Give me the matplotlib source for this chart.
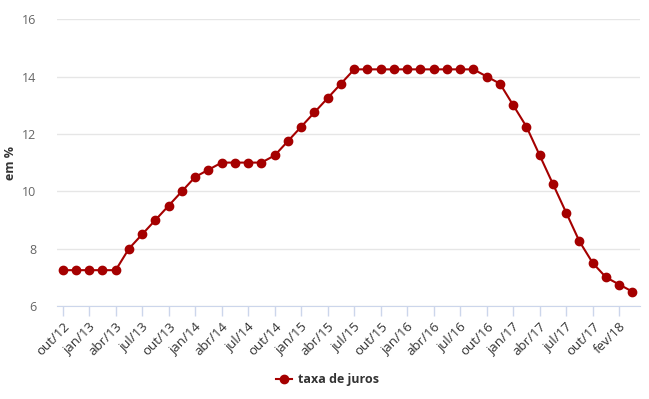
import matplotlib.pyplot as plt

plt.rcParams['font.family'] = ['Open Sans', 'DejaVu Sans']

# one entry per Copom meeting, labelled by month
meses = ['out/12', 'nov/12', 'jan/13', 'mar/13', 'abr/13', 'mai/13', 'jul/13', 'ago/13',
         'out/13', 'nov/13', 'jan/14', 'fev/14', 'abr/14', 'mai/14', 'jul/14', 'set/14',
         'out/14', 'dez/14', 'jan/15', 'mar/15', 'abr/15', 'jun/15', 'jul/15', 'set/15',
         'out/15', 'nov/15', 'jan/16', 'mar/16', 'abr/16', 'jun/16', 'jul/16', 'ago/16',
         'out/16', 'nov/16', 'jan/17', 'fev/17', 'abr/17', 'mai/17', 'jul/17', 'set/17',
         'out/17', 'dez/17', 'fev/18', 'mar/18']
taxa = [7.25, 7.25, 7.25, 7.25, 7.25, 8.0, 8.5, 9.0,
        9.5, 10.0, 10.5, 10.75, 11.0, 11.0, 11.0, 11.0,
        11.25, 11.75, 12.25, 12.75, 13.25, 13.75, 14.25, 14.25,
        14.25, 14.25, 14.25, 14.25, 14.25, 14.25, 14.25, 14.25,
        14.0, 13.75, 13.0, 12.25, 11.25, 10.25, 9.25, 8.25,
        7.5, 7.0, 6.75, 6.5]
yticks = [6, 8, 10, 12, 14, 16]

fig = plt.figure(figsize=(6.49, 3.99), dpi=100)
ax = fig.add_axes([0.0878, 0.233, 0.898, 0.719])

x = list(range(len(meses)))
ax.plot(x, taxa, color='#a50000', linewidth=1.5, marker='o', markersize=6,
        label='taxa de juros')

ax.set_ylim(6, 16)
ax.set_xlim(-0.43, len(meses) - 0.45)
ax.set_yticks(yticks)
ax.set_xticks(x[::2])
ax.set_xticklabels(meses[::2], rotation=45, ha='right', rotation_mode='anchor',
                   fontsize=9.5, color='#333333')
ax.tick_params(axis='x', length=7, color='#ccd6eb', width=1, pad=3)
ax.tick_params(axis='y', length=0, labelsize=9, labelcolor='#666666', pad=15)

for s in ['top', 'right', 'left']:
    ax.spines[s].set_visible(False)
ax.spines['bottom'].set_color('#ccd6eb')
ax.grid(axis='y', color='#e6e6e6', linewidth=1)
ax.set_axisbelow(True)

ax.set_ylabel('em %', fontsize=9, fontweight='bold', color='#333333')
ax.yaxis.set_label_coords(-0.068, 0.5)

fig.legend(loc='center', bbox_to_anchor=(0.505, 0.048), frameon=False,
           prop={'size': 9, 'weight': 'bold'}, labelcolor='#333333',
           handlelength=1.3, handletextpad=0.5)

fig.savefig('out.png', dpi=100)
